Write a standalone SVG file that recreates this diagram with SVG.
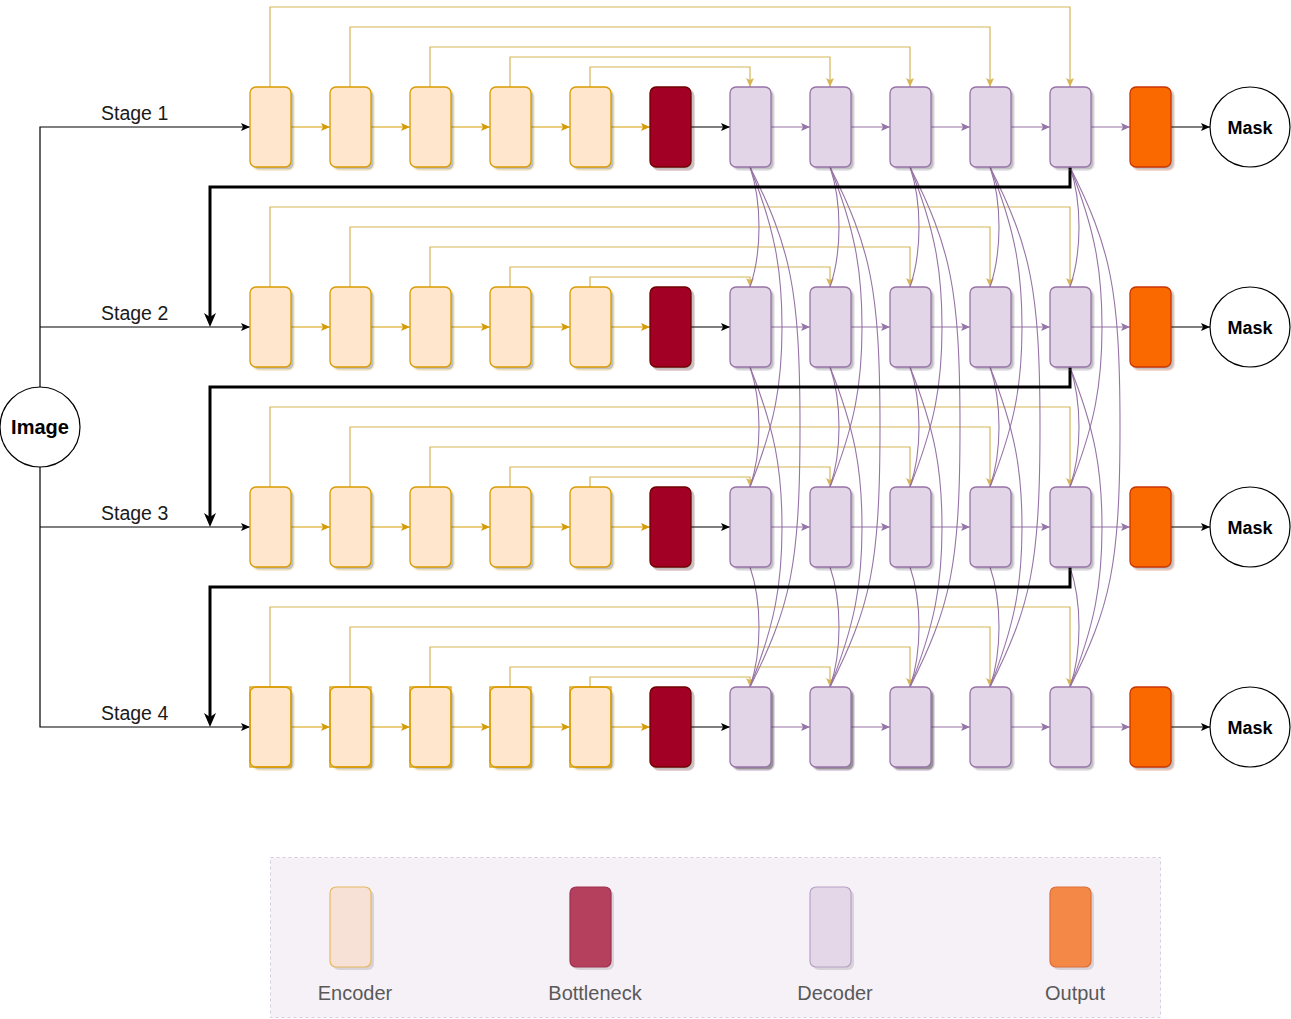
<svg xmlns="http://www.w3.org/2000/svg" xmlns:xlink="http://www.w3.org/1999/xlink" width="1291" height="1019" viewBox="0 0 1291 1019">
<style>
.enc{fill:#ffe6cc;stroke:#d79b00;stroke-width:1.3}
.bot{fill:#a20025;stroke:#6f0000;stroke-width:1.3}
.dec{fill:#e1d5e7;stroke:#9673a6;stroke-width:1.3}
.out{fill:#fa6800;stroke:#c73500;stroke-width:1.3}
.circ{fill:#fff;stroke:#000;stroke-width:1.2}
.lbl{font-family:"Liberation Sans",Arial,sans-serif;font-size:19.5px;fill:#1a1a1a}
.bold{font-family:"Liberation Sans",Arial,sans-serif;font-weight:bold;fill:#000;text-anchor:middle}
.ea{fill:none;stroke:#d79b00;stroke-width:1.2;marker-end:url(#ay)}
.da{fill:none;stroke:#9673a6;stroke-width:1.2;marker-end:url(#ap)}
.ka{fill:none;stroke:#000;stroke-width:1.2;marker-end:url(#ak)}
.skip{fill:none;stroke:#d6b656;stroke-width:1.2;marker-end:url(#as)}
.cv{fill:none;stroke:#9673a6;stroke-width:1.1}
.thick{fill:none;stroke:#000;stroke-width:3;marker-end:url(#ab)}
.leg{font-family:"Liberation Sans",Arial,sans-serif;font-size:20px;fill:#595959;text-anchor:middle}
</style>
<defs>
<marker id="ay" viewBox="0 0 9 8" markerUnits="userSpaceOnUse" markerWidth="9" markerHeight="8" refX="9" refY="4" orient="auto"><path d="M0,0 L9,4 L0,8 L2,4 z" fill="#d79b00"/></marker>
<marker id="ap" viewBox="0 0 9 8" markerUnits="userSpaceOnUse" markerWidth="9" markerHeight="8" refX="9" refY="4" orient="auto"><path d="M0,0 L9,4 L0,8 L2,4 z" fill="#9673a6"/></marker>
<marker id="ak" viewBox="0 0 9 8" markerUnits="userSpaceOnUse" markerWidth="9" markerHeight="8" refX="9" refY="4" orient="auto"><path d="M0,0 L9,4 L0,8 L2,4 z" fill="#000"/></marker>
<marker id="as" viewBox="0 0 9 8" markerUnits="userSpaceOnUse" markerWidth="9" markerHeight="8" refX="9" refY="4" orient="auto"><path d="M0,0 L9,4 L0,8 L2,4 z" fill="#d6b656"/></marker>
<marker id="ab" viewBox="0 0 14 12" markerUnits="userSpaceOnUse" markerWidth="14" markerHeight="12" refX="8" refY="6" orient="auto"><path d="M0,0 L14,6 L0,12 L4,6 z" fill="#000"/></marker>
<rect id="sh" x="3" y="3" width="41" height="80" rx="6" fill="#000" opacity="0.24"/>
<rect id="shd" x="3" y="3" width="41" height="80" rx="6" fill="#000" opacity="0.42"/>
<rect id="box" width="41" height="80" rx="6"/>
<rect id="sq" width="41" height="80" fill="none"/>
<g id="col">
<path class="cv" d="M0,167 C12,202 12,252 0,287"/>
<path class="cv" d="M0,367 C12,402 12,452 0,487"/>
<path class="cv" d="M0,567 C12,602 12,652 0,687"/>
<path class="cv" d="M0,167 C25,230 32,270 32,327 C32,384 25,424 0,487"/>
<path class="cv" d="M0,367 C25,430 32,470 32,527 C32,584 25,624 0,687"/>
<path class="cv" d="M0,167 C40,247 50,287 50,427 C50,567 40,607 0,687"/>
</g>
<g id="rowarrows">
<path class="ea" d="M291,127 H330"/>
<path class="ea" d="M371,127 H410"/>
<path class="ea" d="M451,127 H490"/>
<path class="ea" d="M531,127 H570"/>
<path class="ea" d="M611,127 H650"/>
<path class="ka" d="M691,127 H730"/>
<path class="da" d="M771,127 H810"/>
<path class="da" d="M851,127 H890"/>
<path class="da" d="M931,127 H970"/>
<path class="da" d="M1011,127 H1050"/>
<path class="da" d="M1091,127 H1130"/>
<path class="ka" d="M1171,127 H1210"/>
</g>
</defs>

<g id="connectors">
<path class="ka" d="M40,387 V127 H250"/>
<path class="ka" d="M40,327 H250"/>
<path class="ka" d="M40,467 V727 H250"/>
<path class="ka" d="M40,527 H250"/>
<use href="#rowarrows"/>
<use href="#rowarrows" transform="translate(0,200)"/>
<use href="#rowarrows" transform="translate(0,400)"/>
<use href="#rowarrows" transform="translate(0,600)"/>
<path class="skip" d="M270,87 V7 H1070 V87"/>
<path class="skip" d="M350,87 V27 H990 V87"/>
<path class="skip" d="M430,87 V47 H910 V87"/>
<path class="skip" d="M510,87 V57 H830 V87"/>
<path class="skip" d="M590,87 V67 H750 V87"/>
<path class="skip" d="M270,287 V207 H1070 V287"/>
<path class="skip" d="M350,287 V227 H990 V287"/>
<path class="skip" d="M430,287 V247 H910 V287"/>
<path class="skip" d="M510,287 V267 H830 V287"/>
<path class="skip" d="M590,287 V277 H750 V287"/>
<path class="skip" d="M270,487 V407 H1070 V487"/>
<path class="skip" d="M350,487 V427 H990 V487"/>
<path class="skip" d="M430,487 V447 H910 V487"/>
<path class="skip" d="M510,487 V467 H830 V487"/>
<path class="skip" d="M590,487 V477 H750 V487"/>
<path class="skip" d="M270,687 V607 H1070 V687"/>
<path class="skip" d="M350,687 V627 H990 V687"/>
<path class="skip" d="M430,687 V647 H910 V687"/>
<path class="skip" d="M510,687 V667 H830 V687"/>
<path class="skip" d="M590,687 V677 H750 V687"/>
<use href="#col" transform="translate(750,0)"/>
<use href="#col" transform="translate(830,0)"/>
<use href="#col" transform="translate(910,0)"/>
<use href="#col" transform="translate(990,0)"/>
<use href="#col" transform="translate(1070,0)"/>
<path class="thick" d="M1070,167 V187 H210 V321"/>
<path class="thick" d="M1070,367 V387 H210 V521"/>
<path class="thick" d="M1070,567 V587 H210 V721"/>
</g>

<g id="labels">
<text class="lbl" x="101" y="120">Stage 1</text>
<text class="lbl" x="101" y="320">Stage 2</text>
<text class="lbl" x="101" y="520">Stage 3</text>
<text class="lbl" x="101" y="720">Stage 4</text>
</g>

<g id="image"><circle class="circ" cx="40" cy="427" r="40"/><text class="bold" x="40" y="434" font-size="20">Image</text></g>

<g id="s1-e1" class="enc" transform="translate(250,87)"><use href="#sh"/><use href="#box"/></g>
<g id="s1-e2" class="enc" transform="translate(330,87)"><use href="#sh"/><use href="#box"/></g>
<g id="s1-e3" class="enc" transform="translate(410,87)"><use href="#sh"/><use href="#box"/></g>
<g id="s1-e4" class="enc" transform="translate(490,87)"><use href="#sh"/><use href="#box"/></g>
<g id="s1-e5" class="enc" transform="translate(570,87)"><use href="#sh"/><use href="#box"/></g>
<g id="s1-b" class="bot" transform="translate(650,87)"><use href="#sh"/><use href="#box"/></g>
<g id="s1-d1" class="dec" transform="translate(730,87)"><use href="#sh"/><use href="#box"/></g>
<g id="s1-d2" class="dec" transform="translate(810,87)"><use href="#sh"/><use href="#box"/></g>
<g id="s1-d3" class="dec" transform="translate(890,87)"><use href="#sh"/><use href="#box"/></g>
<g id="s1-d4" class="dec" transform="translate(970,87)"><use href="#sh"/><use href="#box"/></g>
<g id="s1-d5" class="dec" transform="translate(1050,87)"><use href="#sh"/><use href="#box"/></g>
<g id="s1-o" class="out" transform="translate(1130,87)"><use href="#sh"/><use href="#box"/></g>
<g id="s1-mask"><circle class="circ" cx="1250" cy="127" r="40"/><text class="bold" x="1250" y="133.5" font-size="18">Mask</text></g>

<g id="s2-e1" class="enc" transform="translate(250,287)"><use href="#sh"/><use href="#box"/></g>
<g id="s2-e2" class="enc" transform="translate(330,287)"><use href="#sh"/><use href="#box"/></g>
<g id="s2-e3" class="enc" transform="translate(410,287)"><use href="#sh"/><use href="#box"/></g>
<g id="s2-e4" class="enc" transform="translate(490,287)"><use href="#sh"/><use href="#box"/></g>
<g id="s2-e5" class="enc" transform="translate(570,287)"><use href="#sh"/><use href="#box"/></g>
<g id="s2-b" class="bot" transform="translate(650,287)"><use href="#sh"/><use href="#box"/></g>
<g id="s2-d1" class="dec" transform="translate(730,287)"><use href="#sh"/><use href="#box"/></g>
<g id="s2-d2" class="dec" transform="translate(810,287)"><use href="#sh"/><use href="#box"/></g>
<g id="s2-d3" class="dec" transform="translate(890,287)"><use href="#sh"/><use href="#box"/></g>
<g id="s2-d4" class="dec" transform="translate(970,287)"><use href="#sh"/><use href="#box"/></g>
<g id="s2-d5" class="dec" transform="translate(1050,287)"><use href="#sh"/><use href="#box"/></g>
<g id="s2-o" class="out" transform="translate(1130,287)"><use href="#sh"/><use href="#box"/></g>
<g id="s2-mask"><circle class="circ" cx="1250" cy="327" r="40"/><text class="bold" x="1250" y="333.5" font-size="18">Mask</text></g>

<g id="s3-e1" class="enc" transform="translate(250,487)"><use href="#sh"/><use href="#box"/></g>
<g id="s3-e2" class="enc" transform="translate(330,487)"><use href="#sh"/><use href="#box"/></g>
<g id="s3-e3" class="enc" transform="translate(410,487)"><use href="#sh"/><use href="#box"/></g>
<g id="s3-e4" class="enc" transform="translate(490,487)"><use href="#sh"/><use href="#box"/></g>
<g id="s3-e5" class="enc" transform="translate(570,487)"><use href="#sh"/><use href="#box"/></g>
<g id="s3-b" class="bot" transform="translate(650,487)"><use href="#sh"/><use href="#box"/></g>
<g id="s3-d1" class="dec" transform="translate(730,487)"><use href="#sh"/><use href="#box"/></g>
<g id="s3-d2" class="dec" transform="translate(810,487)"><use href="#sh"/><use href="#box"/></g>
<g id="s3-d3" class="dec" transform="translate(890,487)"><use href="#sh"/><use href="#box"/></g>
<g id="s3-d4" class="dec" transform="translate(970,487)"><use href="#sh"/><use href="#box"/></g>
<g id="s3-d5" class="dec" transform="translate(1050,487)"><use href="#sh"/><use href="#box"/></g>
<g id="s3-o" class="out" transform="translate(1130,487)"><use href="#sh"/><use href="#box"/></g>
<g id="s3-mask"><circle class="circ" cx="1250" cy="527" r="40"/><text class="bold" x="1250" y="533.5" font-size="18">Mask</text></g>

<g id="s4-e1" class="enc" transform="translate(250,687)"><use href="#sh"/><use href="#box"/><use href="#sq"/></g>
<g id="s4-e2" class="enc" transform="translate(330,687)"><use href="#sh"/><use href="#box"/><use href="#sq"/></g>
<g id="s4-e3" class="enc" transform="translate(410,687)"><use href="#sh"/><use href="#box"/><use href="#sq"/></g>
<g id="s4-e4" class="enc" transform="translate(490,687)"><use href="#sh"/><use href="#box"/><use href="#sq"/></g>
<g id="s4-e5" class="enc" transform="translate(570,687)"><use href="#sh"/><use href="#box"/><use href="#sq"/></g>
<g id="s4-b" class="bot" transform="translate(650,687)"><use href="#sh"/><use href="#box"/></g>
<g id="s4-d1" class="dec" transform="translate(730,687)"><use href="#shd"/><use href="#box"/></g>
<g id="s4-d2" class="dec" transform="translate(810,687)"><use href="#shd"/><use href="#box"/></g>
<g id="s4-d3" class="dec" transform="translate(890,687)"><use href="#shd"/><use href="#box"/></g>
<g id="s4-d4" class="dec" transform="translate(970,687)"><use href="#sh"/><use href="#box"/></g>
<g id="s4-d5" class="dec" transform="translate(1050,687)"><use href="#sh"/><use href="#box"/></g>
<g id="s4-o" class="out" transform="translate(1130,687)"><use href="#sh"/><use href="#box"/></g>
<g id="s4-mask"><circle class="circ" cx="1250" cy="727" r="40"/><text class="bold" x="1250" y="733.5" font-size="18">Mask</text></g>

<g id="legend">
<rect x="270.5" y="857.5" width="890" height="160" fill="#f6f1f7" stroke="#d6cedd" stroke-dasharray="3 3"/>
<g id="leg-enc" transform="translate(330,887)"><use href="#sh" opacity="0.5"/><use href="#box" fill="#f7e1d7" stroke="#e6b860" stroke-width="1.2"/></g>
<g id="leg-bot" transform="translate(570,887)"><use href="#sh" opacity="0.5"/><use href="#box" fill="#b5405e" stroke="#9e3050" stroke-width="1.2"/></g>
<g id="leg-dec" transform="translate(810,887)"><use href="#sh" opacity="0.5"/><use href="#box" fill="#e3d7e8" stroke="#b8a2c5" stroke-width="1.2"/></g>
<g id="leg-out" transform="translate(1050,887)"><use href="#sh" opacity="0.5"/><use href="#box" fill="#f48846" stroke="#dc6e3a" stroke-width="1.2"/></g>
<text class="leg" x="355" y="1000">Encoder</text>
<text class="leg" x="595" y="1000">Bottleneck</text>
<text class="leg" x="835" y="1000">Decoder</text>
<text class="leg" x="1075" y="1000">Output</text>
</g>
</svg>
